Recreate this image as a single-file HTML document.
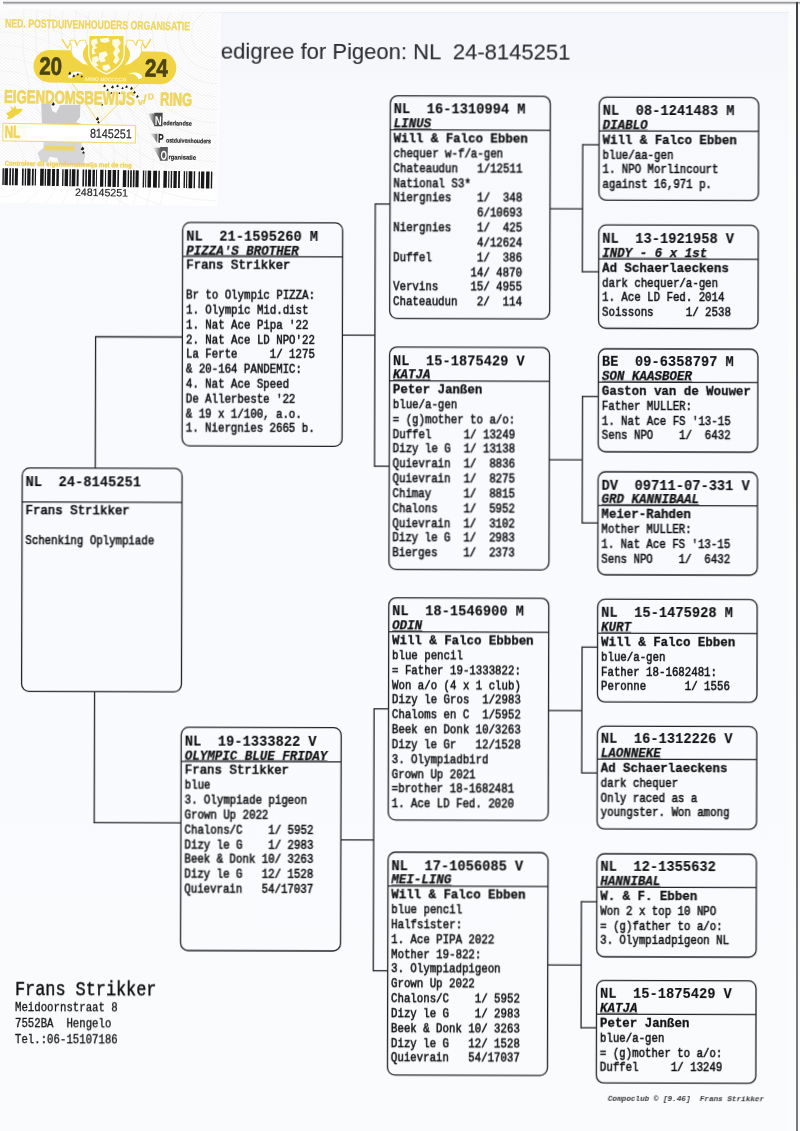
<!DOCTYPE html>
<html><head><meta charset="utf-8"><title>Pedigree</title>
<style>
html,body{margin:0;padding:0}
body{width:800px;height:1131px;overflow:hidden;position:relative;background:#fcfcfd;font-family:"Liberation Mono",monospace;color:#101012}
#all{position:absolute;left:0;top:0;width:800px;height:1131px;transform-origin:0 0;transform:rotate(0.17deg);will-change:transform;filter:blur(0.35px)}
#lab{position:absolute;left:0;top:0;width:240px;height:215px;will-change:transform}
.sheet{position:absolute;left:0;top:13px;width:788px;height:1118px;background:linear-gradient(#f4f6fb 0,#f5f7fb 50px,#f8f9fc 80px,#f9fafd 400px,#fafbfd 100%)}
.topedge{position:absolute;left:3px;top:0;width:797px;height:6px;background:linear-gradient(#fdfdfd 0,#ededee 1.4px,#94969a 2.4px,#9c9ea2 3.0px,#e6e6e8 4.0px,#fcfcfd 5.5px)}
.topline2{position:absolute;left:3px;top:12px;width:786px;height:1.4px;background:#eceef2}
.rightedge{position:absolute;left:795.9px;top:2px;width:2.4px;height:1129px;background:linear-gradient(#3a4246,#4a5256 30%,#767c80 90%)}
.t{position:absolute;white-space:pre;line-height:20px;height:20px;transform-origin:0 50%;font-family:"Liberation Mono",monospace;color:#101012}
.l{position:absolute;background:#232427}
.b{position:absolute;border:1.25px solid #232427;border-radius:7.5px;box-sizing:content-box}
.title{position:absolute;left:220.9px;top:36.0px;font:21.2px "Liberation Sans",sans-serif;color:#2c2e32;white-space:pre;line-height:30px;transform-origin:0 50%;transform:scaleX(1.04);-webkit-text-stroke:0.12px #2c2e32}
</style></head><body>
<div class="sheet"></div>
<div class="topedge"></div><div class="topline2"></div>
<div class="rightedge"></div>
<div id="lab">
<svg width="240" height="215" viewBox="0 0 240 215" style="position:absolute;left:0;top:0;overflow:visible">
<defs><linearGradient id="sh" x1="0" x2="1"><stop offset="0" stop-color="#fefefe"/><stop offset="1" stop-color="#fefefe" stop-opacity="0"/></linearGradient><pattern id="gp" width="2.4" height="2.4" patternUnits="userSpaceOnUse" patternTransform="rotate(38)"><rect x="0" y="0" width="2.4" height="0.7" fill="#f2f2f4"/></pattern><clipPath id="lc"><rect x="-3" y="9" width="222.3" height="193.7"/></clipPath><linearGradient id="wg" x1="0" x2="1"><stop offset="0" stop-color="#b0b0b0" stop-opacity="0.2"/><stop offset="1" stop-color="#5e5e60"/></linearGradient></defs>
<g transform="rotate(0.95)" font-family="Liberation Sans, sans-serif">
<rect x="-3" y="9" width="222.3" height="193.7" fill="#fefefe"/><rect x="-3" y="9" width="222.3" height="157" fill="url(#gp)"/>
<rect x="219.3" y="9" width="3" height="193.7" fill="url(#sh)"/>
<g clip-path="url(#lc)">
<circle cx="216" cy="30" r="24" fill="none" stroke="#ebebee" stroke-width="0.5"/>
<circle cx="216" cy="30" r="37" fill="none" stroke="#ebebee" stroke-width="0.5"/>
<circle cx="216" cy="30" r="50" fill="none" stroke="#ebebee" stroke-width="0.5"/>
<circle cx="216" cy="30" r="63" fill="none" stroke="#ebebee" stroke-width="0.5"/>
<circle cx="216" cy="30" r="76" fill="none" stroke="#ebebee" stroke-width="0.5"/>
<circle cx="216" cy="30" r="89" fill="none" stroke="#ebebee" stroke-width="0.5"/>
<circle cx="216" cy="30" r="102" fill="none" stroke="#ebebee" stroke-width="0.5"/>
<circle cx="216" cy="30" r="115" fill="none" stroke="#ebebee" stroke-width="0.5"/>
<circle cx="216" cy="30" r="128" fill="none" stroke="#ebebee" stroke-width="0.5"/>
<circle cx="216" cy="30" r="141" fill="none" stroke="#ebebee" stroke-width="0.5"/>
<circle cx="216" cy="30" r="154" fill="none" stroke="#ebebee" stroke-width="0.5"/>
<circle cx="216" cy="30" r="167" fill="none" stroke="#ebebee" stroke-width="0.5"/>
<circle cx="216" cy="30" r="180" fill="none" stroke="#ebebee" stroke-width="0.5"/>
<circle cx="216" cy="30" r="193" fill="none" stroke="#ebebee" stroke-width="0.5"/>
<circle cx="2" cy="160" r="24" fill="none" stroke="#efeff1" stroke-width="0.5"/>
<circle cx="2" cy="160" r="37" fill="none" stroke="#efeff1" stroke-width="0.5"/>
<circle cx="2" cy="160" r="50" fill="none" stroke="#efeff1" stroke-width="0.5"/>
<circle cx="2" cy="160" r="63" fill="none" stroke="#efeff1" stroke-width="0.5"/>
<circle cx="2" cy="160" r="76" fill="none" stroke="#efeff1" stroke-width="0.5"/>
<circle cx="2" cy="160" r="89" fill="none" stroke="#efeff1" stroke-width="0.5"/>
<circle cx="2" cy="160" r="102" fill="none" stroke="#efeff1" stroke-width="0.5"/>
<circle cx="2" cy="160" r="115" fill="none" stroke="#efeff1" stroke-width="0.5"/>
<circle cx="2" cy="160" r="128" fill="none" stroke="#efeff1" stroke-width="0.5"/>
<circle cx="2" cy="160" r="141" fill="none" stroke="#efeff1" stroke-width="0.5"/>
<circle cx="2" cy="160" r="154" fill="none" stroke="#efeff1" stroke-width="0.5"/>
<circle cx="2" cy="160" r="167" fill="none" stroke="#efeff1" stroke-width="0.5"/>
</g>
<text x="5.5" y="27.2" font-size="12.0" fill="#efd55e" font-weight="bold" textLength="185" lengthAdjust="spacingAndGlyphs" stroke="#efd55e" stroke-width="0.3" stroke-linejoin="round">NED. POSTDUIVENHOUDERS ORGANISATIE</text>
<path d="M43 103 L52 102.5 L54 110 L58 112 L62 104 L82 103.5 L82 116 L78 121 L83 122.5 L83 123 L44 123 Z" fill="#cbcbcd"/>
<path d="M46 141 L84 141 L84 150 L88 152 L86 164 L62 164 L60 157 L52 156 L50 162 L43 160 L40 152 L46 147 Z" fill="#d6d6d8"/>
<path d="M73.5 82 L101 121.5 L140 82 Z" fill="#fdf8da" opacity="0.3"/>
<path d="M73.5 82 L101 121.5 L140 82" fill="none" stroke="#efd55e" stroke-width="0.9"/>
<rect x="34.6" y="49.2" width="142.8" height="32.4" rx="16.2" fill="#f1d444"/>
<path d="M62.7 38.2 L68.3 47.1 L72.7 38.8" fill="none" stroke="#f1d444" stroke-width="1.4" stroke-linejoin="round"/>
<path d="M75.4 38.8 L78.3 44.5 L81.2 38.9" fill="none" stroke="#f1d444" stroke-width="1.4" stroke-linejoin="round"/>
<path d="M151.4 36.7 L146.1 45.8 L141.4 37.7" fill="none" stroke="#f1d444" stroke-width="1.4" stroke-linejoin="round"/>
<path d="M138.7 37.7 L136.0 43.5 L132.9 38.1" fill="none" stroke="#f1d444" stroke-width="1.4" stroke-linejoin="round"/>
<path d="M70.2 39.3 L75.4 38.8 L77.5 44.5 L80.4 39.2 L86.2 38.6 L87.5 45.3 L86.4 51.6 L88.3 58.8 L89.1 64.0 L84.1 62.9 L79.5 59.4 L74.4 55.8 L71.9 50.8 L72.5 45.6 Z" fill="#ffffff" stroke="#f1d444" stroke-width="0.8" stroke-linejoin="round"/>
<path d="M143.9 38.1 L138.7 37.7 L136.8 43.5 L133.7 38.3 L127.9 37.9 L126.8 44.7 L128.1 50.9 L126.5 58.2 L125.8 63.4 L130.8 62.1 L135.3 58.5 L140.2 54.7 L142.6 49.6 L141.8 44.4 Z" fill="#ffffff" stroke="#f1d444" stroke-width="0.8" stroke-linejoin="round"/>
<ellipse cx="107.3" cy="52.7" rx="23.6" ry="16.2" fill="#f1d444"/>
<path d="M89.3 33.8 L124.7 33.2 L125.0 50.9 C125.2 62.2 115.9 68.6 107.6 72.2 C99.0 68.9 89.8 62.8 89.6 51.5 Z" fill="#f1d444" stroke="#fffdf2" stroke-width="1.3"/>
<path d="M92.3 38.4 L97.3 37.0 L98.6 41.4 L95.5 43.3 L98.0 46.4 L94.3 48.3 L96.9 52.0 L93.2 53.3 L92.5 49.0 L93.7 45.2 L91.7 42.1 Z" fill="#fffbe4" />
<path d="M93.2 55.8 L98.2 54.5 L100.1 58.9 L97.0 60.8 L99.6 63.9 L95.9 65.2 L93.3 61.5 Z" fill="#fffbe4" />
<path d="M100.0 51.4 L106.8 49.4 L108.8 53.1 L105.1 56.3 L107.0 59.4 L102.0 60.7 L99.5 57.0 Z" fill="#fffbe4" />
<path d="M100.4 37.0 L109.1 35.9 L110.4 39.3 L106.1 41.3 L101.7 40.3 Z" fill="#fffbe4" />
<path d="M112.9 38.0 L119.1 36.7 L121.7 41.0 L118.7 44.8 L121.2 49.1 L118.2 52.9 L120.7 57.3 L117.1 62.3 L113.9 59.9 L116.3 55.5 L113.8 51.1 L116.2 46.7 L113.0 43.0 Z" fill="#fffbe4" />
<path d="M103.3 63.8 L109.6 62.4 L112.1 66.2 L107.2 69.4 L104.0 67.5 Z" fill="#fffbe4" />
<text x="85.8" y="79.5" font-size="5.4" fill="#fff3c0" font-weight="bold" textLength="42" lengthAdjust="spacingAndGlyphs">ANNO MDCCCCXI</text>
<path d="M69.2 76.2 C69.7 70.6 79.7 68.6 84.7 72.2 C79.7 71.7 74.7 73.0 72.9 77.4 Z" fill="#fff"/>
<path d="M143.5 75.6 C142.8 70.0 134.7 68.9 129.1 72.1 C134.1 71.4 138.5 72.6 139.8 77.0 Z" fill="#fff"/>
<text x="40.4" y="73.8" font-size="25" fill="#4b4414" font-weight="bold" textLength="22.8" lengthAdjust="spacingAndGlyphs" stroke="#4b4414" stroke-width="0.7" stroke-linejoin="round">20</text>
<text x="145.9" y="74.0" font-size="25" fill="#4b4414" font-weight="bold" textLength="23.0" lengthAdjust="spacingAndGlyphs" stroke="#4b4414" stroke-width="0.7" stroke-linejoin="round">24</text>
<text x="5.8" y="102.6" font-size="18.3" fill="#efd55e" font-weight="bold" textLength="130.6" lengthAdjust="spacingAndGlyphs" stroke="#efd55e" stroke-width="0.8" stroke-linejoin="round">EIGENDOMSBEWIJS</text>
<text x="139.5" y="102.6" font-size="9.5" fill="#efd55e" font-weight="bold" stroke="#efd55e" stroke-width="0.3" stroke-linejoin="round">v</text>
<text x="144.6" y="101" font-size="12.5" fill="#efd55e" font-weight="bold" stroke="#efd55e" stroke-width="0.3" stroke-linejoin="round">/</text>
<text x="149.3" y="97" font-size="8.6" fill="#efd55e" font-weight="bold" stroke="#efd55e" stroke-width="0.3" stroke-linejoin="round">D</text>
<text x="161.8" y="102.6" font-size="18.3" fill="#efd55e" font-weight="bold" textLength="32" lengthAdjust="spacingAndGlyphs" stroke="#efd55e" stroke-width="0.8" stroke-linejoin="round">RING</text>
<path d="M7.6 113 C10.6 112 12.6 111 13.6 109 L11.6 105.8 L15.6 108 L16.6 105 L18.6 109 C20.6 108 22.6 108 24.6 109 C22.6 112 20.6 114 17.6 115 C15.6 118 11.6 119 8.6 119 L10.6 116 Z" fill="#f1d444"/>
<rect x="5.1" y="123.2" width="132.6" height="17.6" fill="#fffdf2" stroke="#efd55e" stroke-width="0.9"/>
<rect x="29.5" y="124.6" width="107" height="14.8" fill="#ffffff"/>
<text x="6.8" y="137.6" font-size="17.2" fill="#efd55e" font-weight="bold" textLength="15.8" lengthAdjust="spacingAndGlyphs" stroke="#efd55e" stroke-width="0.7" stroke-linejoin="round">NL</text>
<text x="92.2" y="136.2" font-size="12.9" fill="#262626" textLength="41.7" lengthAdjust="spacingAndGlyphs" stroke="#262626" stroke-width="0.2" stroke-linejoin="round">8145251</text>
<rect x="47" y="145" width="30" height="4.6" fill="#efd55e" opacity="0.9"/>
<path d="M149.5 111 L156.4 111 L156.4 123 Z" fill="url(#wg)"/>
<rect x="156.2" y="110.1" width="8.3" height="13.5" fill="#4a4a4c"/>
<text x="156.9" y="122.4" font-size="12.6" fill="#fff" font-weight="bold" textLength="6.9" lengthAdjust="spacingAndGlyphs">N</text>
<text x="165.2" y="122.5" font-size="6.4" fill="#1e1e1e" font-weight="bold" textLength="28.6" lengthAdjust="spacingAndGlyphs" stroke="#1e1e1e" stroke-width="0.15" stroke-linejoin="round">ederlandse</text>
<path d="M152.5 131 L159.6 131 L159.6 140 Z" fill="url(#wg)"/>
<text x="160.3" y="140.0" font-size="12.8" fill="#1a1a1a" font-weight="bold" textLength="5.6" lengthAdjust="spacingAndGlyphs" stroke="#1a1a1a" stroke-width="0.2" stroke-linejoin="round">P</text>
<text x="168.3" y="139.8" font-size="6.4" fill="#1e1e1e" font-weight="bold" textLength="45" lengthAdjust="spacingAndGlyphs" stroke="#1e1e1e" stroke-width="0.15" stroke-linejoin="round">ostduivenhouders</text>
<path d="M155.5 145 L162.7 145 L162.7 157 Z" fill="url(#wg)"/>
<rect x="162.5" y="144.3" width="7.8" height="13.7" fill="#5c5c5e"/>
<text x="163.2" y="156.8" font-size="12.6" fill="#fff" font-weight="bold" textLength="6.4" lengthAdjust="spacingAndGlyphs">O</text>
<text x="171" y="156.5" font-size="6.4" fill="#1e1e1e" font-weight="bold" textLength="27.6" lengthAdjust="spacingAndGlyphs" stroke="#1e1e1e" stroke-width="0.15" stroke-linejoin="round">rganisatie</text>
<text x="7.4" y="165.4" font-size="6.8" fill="#f0cf55" font-weight="bold" textLength="127" lengthAdjust="spacingAndGlyphs" stroke="#f0cf55" stroke-width="0.25" stroke-linejoin="round">Controleer dit eigendomsbewijs met de ring</text>
<path d="M69.4 73.0 L71.0 70.4 L72.4 72.3 L71.3 73.6 Z" fill="#1e1e1e"/>
<path d="M73.6 75.3 L75.0 73.1 L76.3 74.8 L75.3 75.9 Z" fill="#1e1e1e"/>
<path d="M77.7 73.8 L79.0 71.7 L80.2 73.3 L79.3 74.3 Z" fill="#1e1e1e"/>
<path d="M81.8 75.7 L83.0 73.8 L84.1 75.2 L83.2 76.2 Z" fill="#1e1e1e"/>
<path d="M104.5 84.9 L106.0 82.5 L107.3 84.3 L106.3 85.5 Z" fill="#1e1e1e"/>
<path d="M107.7 88.8 L109.0 86.7 L110.2 88.3 L109.3 89.3 Z" fill="#1e1e1e"/>
<path d="M112.4 86.0 L114.0 83.4 L115.4 85.3 L114.3 86.6 Z" fill="#1e1e1e"/>
<path d="M117.6 84.8 L119.0 82.6 L120.3 84.3 L119.3 85.4 Z" fill="#1e1e1e"/>
<path d="M122.7 86.8 L124.0 84.7 L125.2 86.3 L124.3 87.3 Z" fill="#1e1e1e"/>
<path d="M126.5 85.4 L128.0 83.0 L129.3 84.8 L128.3 86.0 Z" fill="#1e1e1e"/>
<path d="M131.4 87.0 L133.0 84.4 L134.4 86.3 L133.3 87.6 Z" fill="#1e1e1e"/>
<path d="M134.6 90.8 L136.0 88.6 L137.3 90.3 L136.3 91.4 Z" fill="#1e1e1e"/>
<path d="M137.5 94.9 L139.0 92.5 L140.3 94.3 L139.3 95.5 Z" fill="#1e1e1e"/>
<path d="M112.0 91.6 L113.0 90.0 L113.9 91.2 L113.2 92.0 Z" fill="#1e1e1e"/>
<path d="M119.9 91.7 L121.0 89.9 L122.0 91.2 L121.2 92.1 Z" fill="#1e1e1e"/>
<path d="M53.2 104.1 L55.0 101.2 L56.6 103.4 L55.4 104.8 Z" fill="#1e1e1e"/>
<path d="M103.0 103.6 L104.0 102.0 L104.9 103.2 L104.2 104.0 Z" fill="#1e1e1e"/>
<path d="M97.7 118.1 L99.5 115.2 L101.1 117.4 L99.9 118.8 Z" fill="#1e1e1e"/>
<path d="M99.2 121.3 L100.5 119.2 L101.7 120.8 L100.8 121.8 Z" fill="#1e1e1e"/>
<path d="M83.0 148.2 L85.0 145.0 L86.8 147.4 L85.4 149.0 Z" fill="#1e1e1e"/>
<path d="M84.6 151.8 L86.0 149.6 L87.3 151.3 L86.3 152.4 Z" fill="#1e1e1e"/>
<rect x="5.38" y="168.1" width="1.38" height="16.9" fill="#18181a"/>
<rect x="7.44" y="168.1" width="3.44" height="16.9" fill="#18181a"/>
<rect x="12.25" y="168.1" width="1.65" height="16.9" fill="#18181a"/>
<rect x="15.00" y="168.1" width="1.65" height="16.9" fill="#18181a"/>
<rect x="17.76" y="168.1" width="3.03" height="16.9" fill="#18181a"/>
<rect x="24.91" y="168.1" width="1.65" height="16.9" fill="#18181a"/>
<rect x="27.66" y="168.1" width="1.38" height="16.9" fill="#18181a"/>
<rect x="30.14" y="168.1" width="3.30" height="16.9" fill="#18181a"/>
<rect x="34.81" y="168.1" width="1.79" height="16.9" fill="#18181a"/>
<rect x="37.70" y="168.1" width="1.24" height="16.9" fill="#18181a"/>
<rect x="43.07" y="168.1" width="3.58" height="16.9" fill="#18181a"/>
<rect x="47.60" y="168.1" width="1.38" height="16.9" fill="#18181a"/>
<rect x="50.08" y="168.1" width="3.44" height="16.9" fill="#18181a"/>
<rect x="54.89" y="168.1" width="3.03" height="16.9" fill="#18181a"/>
<rect x="59.30" y="168.1" width="2.48" height="16.9" fill="#18181a"/>
<rect x="65.07" y="168.1" width="1.38" height="16.9" fill="#18181a"/>
<rect x="67.55" y="168.1" width="3.44" height="16.9" fill="#18181a"/>
<rect x="72.36" y="168.1" width="1.38" height="16.9" fill="#18181a"/>
<rect x="74.70" y="168.1" width="3.58" height="16.9" fill="#18181a"/>
<rect x="79.65" y="168.1" width="1.93" height="16.9" fill="#18181a"/>
<rect x="85.43" y="168.1" width="1.65" height="16.9" fill="#18181a"/>
<rect x="88.18" y="168.1" width="1.65" height="16.9" fill="#18181a"/>
<rect x="90.93" y="168.1" width="3.03" height="16.9" fill="#18181a"/>
<rect x="95.33" y="168.1" width="2.48" height="16.9" fill="#18181a"/>
<rect x="98.91" y="168.1" width="0.96" height="16.9" fill="#18181a"/>
<rect x="103.04" y="168.1" width="3.30" height="16.9" fill="#18181a"/>
<rect x="107.90" y="168.1" width="1.10" height="16.9" fill="#18181a"/>
<rect x="110.65" y="168.1" width="3.44" height="16.9" fill="#18181a"/>
<rect x="115.47" y="168.1" width="3.44" height="16.9" fill="#18181a"/>
<rect x="120.28" y="168.1" width="1.65" height="16.9" fill="#18181a"/>
<rect x="125.78" y="168.1" width="3.44" height="16.9" fill="#18181a"/>
<rect x="130.60" y="168.1" width="1.38" height="16.9" fill="#18181a"/>
<rect x="133.07" y="168.1" width="1.65" height="16.9" fill="#18181a"/>
<rect x="135.82" y="168.1" width="1.65" height="16.9" fill="#18181a"/>
<rect x="138.44" y="168.1" width="3.16" height="16.9" fill="#18181a"/>
<rect x="145.73" y="168.1" width="1.38" height="16.9" fill="#18181a"/>
<rect x="148.20" y="168.1" width="0.96" height="16.9" fill="#18181a"/>
<rect x="150.54" y="168.1" width="3.44" height="16.9" fill="#18181a"/>
<rect x="156.04" y="168.1" width="3.85" height="16.9" fill="#18181a"/>
<rect x="161.27" y="168.1" width="1.38" height="16.9" fill="#18181a"/>
<rect x="166.36" y="168.1" width="3.44" height="16.9" fill="#18181a"/>
<rect x="171.17" y="168.1" width="1.10" height="16.9" fill="#18181a"/>
<rect x="173.65" y="168.1" width="1.38" height="16.9" fill="#18181a"/>
<rect x="176.40" y="168.1" width="3.30" height="16.9" fill="#18181a"/>
<rect x="181.08" y="168.1" width="1.79" height="16.9" fill="#18181a"/>
<rect x="186.58" y="168.1" width="1.38" height="16.9" fill="#18181a"/>
<rect x="189.06" y="168.1" width="1.10" height="16.9" fill="#18181a"/>
<rect x="191.53" y="168.1" width="3.71" height="16.9" fill="#18181a"/>
<rect x="196.62" y="168.1" width="1.38" height="16.9" fill="#18181a"/>
<rect x="201.44" y="168.1" width="1.38" height="16.9" fill="#18181a"/>
<rect x="203.91" y="168.1" width="3.30" height="16.9" fill="#18181a"/>
<rect x="209.00" y="168.1" width="3.44" height="16.9" fill="#18181a"/>
<rect x="213.81" y="168.1" width="1.38" height="16.9" fill="#18181a"/>
<text x="78.2" y="194.4" font-size="10.6" fill="#242424" textLength="53" lengthAdjust="spacingAndGlyphs" stroke="#242424" stroke-width="0.15" stroke-linejoin="round">248145251</text>
</g></svg>
</div>
<div id="all">
<div class="title">edigree for Pigeon: NL  24-8145251</div>
<svg width="800" height="1131" style="position:absolute;left:0;top:0" fill="none" stroke="#232427"><rect x="23.60" y="467.90" width="159.90" height="223.40" rx="7.5" ry="7.5" stroke-width="1.3"/><path d="M23.60 501.90H183.50" stroke-width="1.3"/><rect x="183.40" y="221.90" width="160.00" height="223.45" rx="7.5" ry="7.5" stroke-width="1.3"/><path d="M183.40 255.90H343.40" stroke-width="1.3"/><path d="M187.00 254.75H299.55" stroke-width="0.8" stroke="#4a4b4e"/><rect x="183.40" y="726.70" width="160.00" height="223.30" rx="7.5" ry="7.5" stroke-width="1.3"/><path d="M183.40 760.90H343.40" stroke-width="1.3"/><path d="M187.00 759.75H329.57" stroke-width="0.8" stroke="#4a4b4e"/><rect x="390.60" y="94.60" width="160.00" height="222.70" rx="7.5" ry="7.5" stroke-width="1.3"/><path d="M390.60 128.60H550.60" stroke-width="1.3"/><path d="M394.20 127.45H431.72" stroke-width="0.8" stroke="#4a4b4e"/><rect x="390.60" y="345.80" width="160.00" height="222.50" rx="7.5" ry="7.5" stroke-width="1.3"/><path d="M390.60 379.60H550.60" stroke-width="1.3"/><path d="M394.20 378.45H431.72" stroke-width="0.8" stroke="#4a4b4e"/><rect x="390.60" y="596.60" width="160.00" height="222.20" rx="7.5" ry="7.5" stroke-width="1.3"/><path d="M390.60 630.60H550.60" stroke-width="1.3"/><path d="M394.20 629.45H424.21" stroke-width="0.8" stroke="#4a4b4e"/><rect x="390.60" y="851.00" width="160.00" height="222.80" rx="7.5" ry="7.5" stroke-width="1.3"/><path d="M390.60 884.80H550.60" stroke-width="1.3"/><path d="M394.20 883.65H454.23" stroke-width="0.8" stroke="#4a4b4e"/><rect x="599.50" y="95.40" width="159.50" height="103.00" rx="7.5" ry="7.5" stroke-width="1.3"/><path d="M599.50 129.20H759.00" stroke-width="1.3"/><path d="M603.10 128.05H648.12" stroke-width="0.8" stroke="#4a4b4e"/><rect x="599.50" y="223.20" width="159.50" height="103.30" rx="7.5" ry="7.5" stroke-width="1.3"/><path d="M599.50 257.20H759.00" stroke-width="1.3"/><path d="M603.10 256.05H708.15" stroke-width="0.8" stroke="#4a4b4e"/><rect x="599.50" y="347.00" width="159.50" height="103.00" rx="7.5" ry="7.5" stroke-width="1.3"/><path d="M599.50 380.40H759.00" stroke-width="1.3"/><path d="M603.10 379.25H693.14" stroke-width="0.8" stroke="#4a4b4e"/><rect x="599.50" y="470.00" width="159.50" height="103.00" rx="7.5" ry="7.5" stroke-width="1.3"/><path d="M599.50 503.70H759.00" stroke-width="1.3"/><path d="M603.10 502.55H700.65" stroke-width="0.8" stroke="#4a4b4e"/><rect x="599.50" y="597.40" width="159.50" height="102.80" rx="7.5" ry="7.5" stroke-width="1.3"/><path d="M599.50 631.40H759.00" stroke-width="1.3"/><path d="M603.10 630.25H633.11" stroke-width="0.8" stroke="#4a4b4e"/><rect x="599.50" y="724.40" width="159.50" height="102.80" rx="7.5" ry="7.5" stroke-width="1.3"/><path d="M599.50 757.40H759.00" stroke-width="1.3"/><path d="M603.10 756.25H663.13" stroke-width="0.8" stroke="#4a4b4e"/><rect x="599.50" y="852.00" width="159.50" height="103.00" rx="7.5" ry="7.5" stroke-width="1.3"/><path d="M599.50 885.40H759.00" stroke-width="1.3"/><path d="M603.10 884.25H663.13" stroke-width="0.8" stroke="#4a4b4e"/><rect x="599.50" y="978.70" width="159.50" height="102.50" rx="7.5" ry="7.5" stroke-width="1.3"/><path d="M599.50 1012.40H759.00" stroke-width="1.3"/><path d="M603.10 1011.25H640.62" stroke-width="0.8" stroke="#4a4b4e"/><path d="M96.60 335.85V467.90" stroke-width="1.3"/><path d="M96.60 336.50H183.40" stroke-width="1.3"/><path d="M96.60 691.30V823.05" stroke-width="1.3"/><path d="M96.60 822.40H183.40" stroke-width="1.3"/><path d="M343.40 334.10H375.90" stroke-width="1.3"/><path d="M375.90 202.25V465.75" stroke-width="1.3"/><path d="M375.90 202.90H390.60" stroke-width="1.3"/><path d="M375.90 465.10H390.60" stroke-width="1.3"/><path d="M343.40 838.90H376.20" stroke-width="1.3"/><path d="M376.20 707.05V970.25" stroke-width="1.3"/><path d="M376.20 707.70H390.60" stroke-width="1.3"/><path d="M376.20 969.60H390.60" stroke-width="1.3"/><path d="M550.60 207.10H583.20" stroke-width="1.3"/><path d="M583.20 142.35V270.65" stroke-width="1.3"/><path d="M583.20 143.00H599.50" stroke-width="1.3"/><path d="M583.20 270.00H599.50" stroke-width="1.3"/><path d="M550.60 458.10H583.65" stroke-width="1.3"/><path d="M583.65 394.05V521.85" stroke-width="1.3"/><path d="M583.65 394.70H599.50" stroke-width="1.3"/><path d="M583.65 521.20H599.50" stroke-width="1.3"/><path d="M550.60 708.80H584.00" stroke-width="1.3"/><path d="M584.00 644.75V771.85" stroke-width="1.3"/><path d="M584.00 645.40H599.50" stroke-width="1.3"/><path d="M584.00 771.20H599.50" stroke-width="1.3"/><path d="M550.60 963.30H584.10" stroke-width="1.3"/><path d="M584.10 899.35V1026.65" stroke-width="1.3"/><path d="M584.10 900.00H599.50" stroke-width="1.3"/><path d="M584.10 1026.00H599.50" stroke-width="1.3"/></svg>
<div class="t" style="left:26.70px;top:472px;font-size:14.7px;font-weight:bold;font-style:normal;transform:scaleX(0.935);-webkit-text-stroke:0.1px #101012;">NL  24-8145251</div>
<div class="t" style="left:26.70px;top:501px;font-size:13.0px;font-weight:normal;font-style:normal;transform:scaleX(0.955);-webkit-text-stroke:0.7px #101012;">Frans Strikker</div>
<div class="t" style="left:26.70px;top:531px;font-size:13.6px;font-weight:normal;font-style:normal;transform:scaleX(0.79);-webkit-text-stroke:0.55px #101012;">Schenking Oplympiade</div>
<div class="t" style="left:186.50px;top:226px;font-size:14.7px;font-weight:bold;font-style:normal;transform:scaleX(0.935);-webkit-text-stroke:0.1px #101012;">NL  21-1595260 M</div>
<div class="t" style="left:186.50px;top:241px;font-size:13.0px;font-weight:bold;font-style:italic;transform:scaleX(0.962);-webkit-text-stroke:0.25px #101012;">PIZZA&#x27;S BROTHER</div>
<div class="t" style="left:186.50px;top:255px;font-size:13.0px;font-weight:normal;font-style:normal;transform:scaleX(0.955);-webkit-text-stroke:0.7px #101012;">Frans Strikker</div>
<div class="t" style="left:186.50px;top:285px;font-size:13.6px;font-weight:normal;font-style:normal;transform:scaleX(0.79);-webkit-text-stroke:0.55px #101012;">Br to Olympic PIZZA:</div>
<div class="t" style="left:186.50px;top:300px;font-size:13.6px;font-weight:normal;font-style:normal;transform:scaleX(0.79);-webkit-text-stroke:0.55px #101012;">1. Olympic Mid.dist</div>
<div class="t" style="left:186.50px;top:315px;font-size:13.6px;font-weight:normal;font-style:normal;transform:scaleX(0.79);-webkit-text-stroke:0.55px #101012;">1. Nat Ace Pipa &#x27;22</div>
<div class="t" style="left:186.50px;top:330px;font-size:13.6px;font-weight:normal;font-style:normal;transform:scaleX(0.79);-webkit-text-stroke:0.55px #101012;">2. Nat Ace LD NPO&#x27;22</div>
<div class="t" style="left:186.50px;top:344px;font-size:13.6px;font-weight:normal;font-style:normal;transform:scaleX(0.79);-webkit-text-stroke:0.55px #101012;">La Ferte     1/ 1275</div>
<div class="t" style="left:186.50px;top:359px;font-size:13.6px;font-weight:normal;font-style:normal;transform:scaleX(0.79);-webkit-text-stroke:0.55px #101012;">&amp; 20-164 PANDEMIC:</div>
<div class="t" style="left:186.50px;top:374px;font-size:13.6px;font-weight:normal;font-style:normal;transform:scaleX(0.79);-webkit-text-stroke:0.55px #101012;">4. Nat Ace Speed</div>
<div class="t" style="left:186.50px;top:389px;font-size:13.6px;font-weight:normal;font-style:normal;transform:scaleX(0.79);-webkit-text-stroke:0.55px #101012;">De Allerbeste &#x27;22</div>
<div class="t" style="left:186.50px;top:404px;font-size:13.6px;font-weight:normal;font-style:normal;transform:scaleX(0.79);-webkit-text-stroke:0.55px #101012;">&amp; 19 x 1/100, a.o.</div>
<div class="t" style="left:186.50px;top:418px;font-size:13.6px;font-weight:normal;font-style:normal;transform:scaleX(0.79);-webkit-text-stroke:0.55px #101012;">1. Niergnies 2665 b.</div>
<div class="t" style="left:186.50px;top:731px;font-size:14.7px;font-weight:bold;font-style:normal;transform:scaleX(0.935);-webkit-text-stroke:0.1px #101012;">NL  19-1333822 V</div>
<div class="t" style="left:186.50px;top:746px;font-size:13.0px;font-weight:bold;font-style:italic;transform:scaleX(0.962);-webkit-text-stroke:0.25px #101012;">OLYMPIC BLUE FRIDAY</div>
<div class="t" style="left:186.50px;top:760px;font-size:13.0px;font-weight:normal;font-style:normal;transform:scaleX(0.955);-webkit-text-stroke:0.7px #101012;">Frans Strikker</div>
<div class="t" style="left:186.50px;top:775px;font-size:13.6px;font-weight:normal;font-style:normal;transform:scaleX(0.79);-webkit-text-stroke:0.55px #101012;">blue</div>
<div class="t" style="left:186.50px;top:790px;font-size:13.6px;font-weight:normal;font-style:normal;transform:scaleX(0.79);-webkit-text-stroke:0.55px #101012;">3. Olympiade pigeon</div>
<div class="t" style="left:186.50px;top:805px;font-size:13.6px;font-weight:normal;font-style:normal;transform:scaleX(0.79);-webkit-text-stroke:0.55px #101012;">Grown Up 2022</div>
<div class="t" style="left:186.50px;top:820px;font-size:13.6px;font-weight:normal;font-style:normal;transform:scaleX(0.79);-webkit-text-stroke:0.55px #101012;">Chalons/C    1/ 5952</div>
<div class="t" style="left:186.50px;top:835px;font-size:13.6px;font-weight:normal;font-style:normal;transform:scaleX(0.79);-webkit-text-stroke:0.55px #101012;">Dizy le G    1/ 2983</div>
<div class="t" style="left:186.50px;top:849px;font-size:13.6px;font-weight:normal;font-style:normal;transform:scaleX(0.79);-webkit-text-stroke:0.55px #101012;">Beek &amp; Donk 10/ 3263</div>
<div class="t" style="left:186.50px;top:864px;font-size:13.6px;font-weight:normal;font-style:normal;transform:scaleX(0.79);-webkit-text-stroke:0.55px #101012;">Dizy le G   12/ 1528</div>
<div class="t" style="left:186.50px;top:879px;font-size:13.6px;font-weight:normal;font-style:normal;transform:scaleX(0.79);-webkit-text-stroke:0.55px #101012;">Quievrain   54/17037</div>
<div class="t" style="left:393.70px;top:98px;font-size:14.7px;font-weight:bold;font-style:normal;transform:scaleX(0.935);-webkit-text-stroke:0.1px #101012;">NL  16-1310994 M</div>
<div class="t" style="left:393.70px;top:113px;font-size:13.0px;font-weight:bold;font-style:italic;transform:scaleX(0.962);-webkit-text-stroke:0.25px #101012;">LINUS</div>
<div class="t" style="left:393.70px;top:128px;font-size:13.0px;font-weight:bold;font-style:normal;transform:scaleX(0.955);-webkit-text-stroke:0.3px #101012;">Will &amp; Falco Ebben</div>
<div class="t" style="left:393.70px;top:143px;font-size:13.6px;font-weight:normal;font-style:normal;transform:scaleX(0.79);-webkit-text-stroke:0.55px #101012;">chequer w-f/a-gen</div>
<div class="t" style="left:393.70px;top:158px;font-size:13.6px;font-weight:normal;font-style:normal;transform:scaleX(0.79);-webkit-text-stroke:0.55px #101012;">Chateaudun   1/12511</div>
<div class="t" style="left:393.70px;top:173px;font-size:13.6px;font-weight:normal;font-style:normal;transform:scaleX(0.79);-webkit-text-stroke:0.55px #101012;">National S3*</div>
<div class="t" style="left:393.70px;top:187px;font-size:13.6px;font-weight:normal;font-style:normal;transform:scaleX(0.79);-webkit-text-stroke:0.55px #101012;">Niergnies    1/  348</div>
<div class="t" style="left:393.70px;top:202px;font-size:13.6px;font-weight:normal;font-style:normal;transform:scaleX(0.79);-webkit-text-stroke:0.55px #101012;">             6/10693</div>
<div class="t" style="left:393.70px;top:217px;font-size:13.6px;font-weight:normal;font-style:normal;transform:scaleX(0.79);-webkit-text-stroke:0.55px #101012;">Niergnies    1/  425</div>
<div class="t" style="left:393.70px;top:232px;font-size:13.6px;font-weight:normal;font-style:normal;transform:scaleX(0.79);-webkit-text-stroke:0.55px #101012;">             4/12624</div>
<div class="t" style="left:393.70px;top:247px;font-size:13.6px;font-weight:normal;font-style:normal;transform:scaleX(0.79);-webkit-text-stroke:0.55px #101012;">Duffel       1/  386</div>
<div class="t" style="left:393.70px;top:262px;font-size:13.6px;font-weight:normal;font-style:normal;transform:scaleX(0.79);-webkit-text-stroke:0.55px #101012;">            14/ 4870</div>
<div class="t" style="left:393.70px;top:276px;font-size:13.6px;font-weight:normal;font-style:normal;transform:scaleX(0.79);-webkit-text-stroke:0.55px #101012;">Vervins     15/ 4955</div>
<div class="t" style="left:393.70px;top:291px;font-size:13.6px;font-weight:normal;font-style:normal;transform:scaleX(0.79);-webkit-text-stroke:0.55px #101012;">Chateaudun   2/  114</div>
<div class="t" style="left:393.70px;top:350px;font-size:14.7px;font-weight:bold;font-style:normal;transform:scaleX(0.935);-webkit-text-stroke:0.1px #101012;">NL  15-1875429 V</div>
<div class="t" style="left:393.70px;top:364px;font-size:13.0px;font-weight:bold;font-style:italic;transform:scaleX(0.962);-webkit-text-stroke:0.25px #101012;">KATJA</div>
<div class="t" style="left:393.70px;top:379px;font-size:13.0px;font-weight:bold;font-style:normal;transform:scaleX(0.955);-webkit-text-stroke:0.3px #101012;">Peter Janßen</div>
<div class="t" style="left:393.70px;top:394px;font-size:13.6px;font-weight:normal;font-style:normal;transform:scaleX(0.79);-webkit-text-stroke:0.55px #101012;">blue/a-gen</div>
<div class="t" style="left:393.70px;top:409px;font-size:13.6px;font-weight:normal;font-style:normal;transform:scaleX(0.79);-webkit-text-stroke:0.55px #101012;">= (g)mother to a/o:</div>
<div class="t" style="left:393.70px;top:424px;font-size:13.6px;font-weight:normal;font-style:normal;transform:scaleX(0.79);-webkit-text-stroke:0.55px #101012;">Duffel     1/ 13249</div>
<div class="t" style="left:393.70px;top:438px;font-size:13.6px;font-weight:normal;font-style:normal;transform:scaleX(0.79);-webkit-text-stroke:0.55px #101012;">Dizy le G  1/ 13138</div>
<div class="t" style="left:393.70px;top:453px;font-size:13.6px;font-weight:normal;font-style:normal;transform:scaleX(0.79);-webkit-text-stroke:0.55px #101012;">Quievrain  1/  8836</div>
<div class="t" style="left:393.70px;top:468px;font-size:13.6px;font-weight:normal;font-style:normal;transform:scaleX(0.79);-webkit-text-stroke:0.55px #101012;">Quievrain  1/  8275</div>
<div class="t" style="left:393.70px;top:483px;font-size:13.6px;font-weight:normal;font-style:normal;transform:scaleX(0.79);-webkit-text-stroke:0.55px #101012;">Chimay     1/  8815</div>
<div class="t" style="left:393.70px;top:498px;font-size:13.6px;font-weight:normal;font-style:normal;transform:scaleX(0.79);-webkit-text-stroke:0.55px #101012;">Chalons    1/  5952</div>
<div class="t" style="left:393.70px;top:513px;font-size:13.6px;font-weight:normal;font-style:normal;transform:scaleX(0.79);-webkit-text-stroke:0.55px #101012;">Quievrain  1/  3102</div>
<div class="t" style="left:393.70px;top:527px;font-size:13.6px;font-weight:normal;font-style:normal;transform:scaleX(0.79);-webkit-text-stroke:0.55px #101012;">Dizy le G  1/  2983</div>
<div class="t" style="left:393.70px;top:542px;font-size:13.6px;font-weight:normal;font-style:normal;transform:scaleX(0.79);-webkit-text-stroke:0.55px #101012;">Bierges    1/  2373</div>
<div class="t" style="left:393.70px;top:600px;font-size:14.7px;font-weight:bold;font-style:normal;transform:scaleX(0.935);-webkit-text-stroke:0.1px #101012;">NL  18-1546900 M</div>
<div class="t" style="left:393.70px;top:615px;font-size:13.0px;font-weight:bold;font-style:italic;transform:scaleX(0.962);-webkit-text-stroke:0.25px #101012;">ODIN</div>
<div class="t" style="left:393.70px;top:630px;font-size:13.0px;font-weight:bold;font-style:normal;transform:scaleX(0.955);-webkit-text-stroke:0.3px #101012;">Will &amp; Falco Ebbben</div>
<div class="t" style="left:393.70px;top:645px;font-size:13.6px;font-weight:normal;font-style:normal;transform:scaleX(0.79);-webkit-text-stroke:0.55px #101012;">blue pencil</div>
<div class="t" style="left:393.70px;top:660px;font-size:13.6px;font-weight:normal;font-style:normal;transform:scaleX(0.79);-webkit-text-stroke:0.55px #101012;">= Father 19-1333822:</div>
<div class="t" style="left:393.70px;top:675px;font-size:13.6px;font-weight:normal;font-style:normal;transform:scaleX(0.79);-webkit-text-stroke:0.55px #101012;">Won a/o (4 x 1 club)</div>
<div class="t" style="left:393.70px;top:689px;font-size:13.6px;font-weight:normal;font-style:normal;transform:scaleX(0.79);-webkit-text-stroke:0.55px #101012;">Dizy le Gros  1/2983</div>
<div class="t" style="left:393.70px;top:704px;font-size:13.6px;font-weight:normal;font-style:normal;transform:scaleX(0.79);-webkit-text-stroke:0.55px #101012;">Chaloms en C  1/5952</div>
<div class="t" style="left:393.70px;top:719px;font-size:13.6px;font-weight:normal;font-style:normal;transform:scaleX(0.79);-webkit-text-stroke:0.55px #101012;">Beek en Donk 10/3263</div>
<div class="t" style="left:393.70px;top:734px;font-size:13.6px;font-weight:normal;font-style:normal;transform:scaleX(0.79);-webkit-text-stroke:0.55px #101012;">Dizy le Gr   12/1528</div>
<div class="t" style="left:393.70px;top:749px;font-size:13.6px;font-weight:normal;font-style:normal;transform:scaleX(0.79);-webkit-text-stroke:0.55px #101012;">3. Olympiadbird</div>
<div class="t" style="left:393.70px;top:764px;font-size:13.6px;font-weight:normal;font-style:normal;transform:scaleX(0.79);-webkit-text-stroke:0.55px #101012;">Grown Up 2021</div>
<div class="t" style="left:393.70px;top:778px;font-size:13.6px;font-weight:normal;font-style:normal;transform:scaleX(0.79);-webkit-text-stroke:0.55px #101012;">=brother 18-1682481</div>
<div class="t" style="left:393.70px;top:793px;font-size:13.6px;font-weight:normal;font-style:normal;transform:scaleX(0.79);-webkit-text-stroke:0.55px #101012;">1. Ace LD Fed. 2020</div>
<div class="t" style="left:393.70px;top:855px;font-size:14.7px;font-weight:bold;font-style:normal;transform:scaleX(0.935);-webkit-text-stroke:0.1px #101012;">NL  17-1056085 V</div>
<div class="t" style="left:393.70px;top:869px;font-size:13.0px;font-weight:bold;font-style:italic;transform:scaleX(0.962);-webkit-text-stroke:0.25px #101012;">MEI-LING</div>
<div class="t" style="left:393.70px;top:884px;font-size:13.0px;font-weight:bold;font-style:normal;transform:scaleX(0.955);-webkit-text-stroke:0.3px #101012;">Will &amp; Falco Ebben</div>
<div class="t" style="left:393.70px;top:899px;font-size:13.6px;font-weight:normal;font-style:normal;transform:scaleX(0.79);-webkit-text-stroke:0.55px #101012;">blue pencil</div>
<div class="t" style="left:393.70px;top:914px;font-size:13.6px;font-weight:normal;font-style:normal;transform:scaleX(0.79);-webkit-text-stroke:0.55px #101012;">Halfsister:</div>
<div class="t" style="left:393.70px;top:929px;font-size:13.6px;font-weight:normal;font-style:normal;transform:scaleX(0.79);-webkit-text-stroke:0.55px #101012;">1. Ace PIPA 2022</div>
<div class="t" style="left:393.70px;top:944px;font-size:13.6px;font-weight:normal;font-style:normal;transform:scaleX(0.79);-webkit-text-stroke:0.55px #101012;">Mother 19-822:</div>
<div class="t" style="left:393.70px;top:958px;font-size:13.6px;font-weight:normal;font-style:normal;transform:scaleX(0.79);-webkit-text-stroke:0.55px #101012;">3. Olympiadpigeon</div>
<div class="t" style="left:393.70px;top:973px;font-size:13.6px;font-weight:normal;font-style:normal;transform:scaleX(0.79);-webkit-text-stroke:0.55px #101012;">Grown Up 2022</div>
<div class="t" style="left:393.70px;top:988px;font-size:13.6px;font-weight:normal;font-style:normal;transform:scaleX(0.79);-webkit-text-stroke:0.55px #101012;">Chalons/C    1/ 5952</div>
<div class="t" style="left:393.70px;top:1003px;font-size:13.6px;font-weight:normal;font-style:normal;transform:scaleX(0.79);-webkit-text-stroke:0.55px #101012;">Dizy le G    1/ 2983</div>
<div class="t" style="left:393.70px;top:1018px;font-size:13.6px;font-weight:normal;font-style:normal;transform:scaleX(0.79);-webkit-text-stroke:0.55px #101012;">Beek &amp; Donk 10/ 3263</div>
<div class="t" style="left:393.70px;top:1033px;font-size:13.6px;font-weight:normal;font-style:normal;transform:scaleX(0.79);-webkit-text-stroke:0.55px #101012;">Dizy le G   12/ 1528</div>
<div class="t" style="left:393.70px;top:1047px;font-size:13.6px;font-weight:normal;font-style:normal;transform:scaleX(0.79);-webkit-text-stroke:0.55px #101012;">Quievrain   54/17037</div>
<div class="t" style="left:602.60px;top:99px;font-size:14.7px;font-weight:bold;font-style:normal;transform:scaleX(0.935);-webkit-text-stroke:0.1px #101012;">NL  08-1241483 M</div>
<div class="t" style="left:602.60px;top:114px;font-size:13.0px;font-weight:bold;font-style:italic;transform:scaleX(0.962);-webkit-text-stroke:0.25px #101012;">DIABLO</div>
<div class="t" style="left:602.60px;top:129px;font-size:13.0px;font-weight:bold;font-style:normal;transform:scaleX(0.955);-webkit-text-stroke:0.3px #101012;">Will &amp; Falco Ebben</div>
<div class="t" style="left:602.60px;top:144px;font-size:13.6px;font-weight:normal;font-style:normal;transform:scaleX(0.79);-webkit-text-stroke:0.55px #101012;">blue/aa-gen</div>
<div class="t" style="left:602.60px;top:158px;font-size:13.6px;font-weight:normal;font-style:normal;transform:scaleX(0.79);-webkit-text-stroke:0.55px #101012;">1. NPO Morlincourt</div>
<div class="t" style="left:602.60px;top:173px;font-size:13.6px;font-weight:normal;font-style:normal;transform:scaleX(0.79);-webkit-text-stroke:0.55px #101012;">against 16,971 p.</div>
<div class="t" style="left:602.60px;top:227px;font-size:14.7px;font-weight:bold;font-style:normal;transform:scaleX(0.935);-webkit-text-stroke:0.1px #101012;">NL  13-1921958 V</div>
<div class="t" style="left:602.60px;top:242px;font-size:13.0px;font-weight:bold;font-style:italic;transform:scaleX(0.962);-webkit-text-stroke:0.25px #101012;">INDY - 6 x 1st</div>
<div class="t" style="left:602.60px;top:257px;font-size:13.0px;font-weight:bold;font-style:normal;transform:scaleX(0.955);-webkit-text-stroke:0.3px #101012;">Ad Schaerlaeckens</div>
<div class="t" style="left:602.60px;top:272px;font-size:13.6px;font-weight:normal;font-style:normal;transform:scaleX(0.79);-webkit-text-stroke:0.55px #101012;">dark chequer/a-gen</div>
<div class="t" style="left:602.60px;top:286px;font-size:13.6px;font-weight:normal;font-style:normal;transform:scaleX(0.79);-webkit-text-stroke:0.55px #101012;">1. Ace LD Fed. 2014</div>
<div class="t" style="left:602.60px;top:301px;font-size:13.6px;font-weight:normal;font-style:normal;transform:scaleX(0.79);-webkit-text-stroke:0.55px #101012;">Soissons     1/ 2538</div>
<div class="t" style="left:602.60px;top:350px;font-size:14.7px;font-weight:bold;font-style:normal;transform:scaleX(0.935);-webkit-text-stroke:0.1px #101012;">BE  09-6358797 M</div>
<div class="t" style="left:602.60px;top:365px;font-size:13.0px;font-weight:bold;font-style:italic;transform:scaleX(0.962);-webkit-text-stroke:0.25px #101012;">SON KAASBOER</div>
<div class="t" style="left:602.60px;top:380px;font-size:13.0px;font-weight:bold;font-style:normal;transform:scaleX(0.955);-webkit-text-stroke:0.3px #101012;">Gaston van de Wouwer</div>
<div class="t" style="left:602.60px;top:395px;font-size:13.6px;font-weight:normal;font-style:normal;transform:scaleX(0.79);-webkit-text-stroke:0.55px #101012;">Father MULLER:</div>
<div class="t" style="left:602.60px;top:410px;font-size:13.6px;font-weight:normal;font-style:normal;transform:scaleX(0.79);-webkit-text-stroke:0.55px #101012;">1. Nat Ace FS &#x27;13-15</div>
<div class="t" style="left:602.60px;top:424px;font-size:13.6px;font-weight:normal;font-style:normal;transform:scaleX(0.79);-webkit-text-stroke:0.55px #101012;">Sens NPO    1/  6432</div>
<div class="t" style="left:602.60px;top:474px;font-size:14.7px;font-weight:bold;font-style:normal;transform:scaleX(0.935);-webkit-text-stroke:0.1px #101012;">DV  09711-07-331 V</div>
<div class="t" style="left:602.60px;top:488px;font-size:13.0px;font-weight:bold;font-style:italic;transform:scaleX(0.962);-webkit-text-stroke:0.25px #101012;">GRD KANNIBAAL</div>
<div class="t" style="left:602.60px;top:503px;font-size:13.0px;font-weight:bold;font-style:normal;transform:scaleX(0.955);-webkit-text-stroke:0.3px #101012;">Meier-Rahden</div>
<div class="t" style="left:602.60px;top:518px;font-size:13.6px;font-weight:normal;font-style:normal;transform:scaleX(0.79);-webkit-text-stroke:0.55px #101012;">Mother MULLER:</div>
<div class="t" style="left:602.60px;top:533px;font-size:13.6px;font-weight:normal;font-style:normal;transform:scaleX(0.79);-webkit-text-stroke:0.55px #101012;">1. Nat Ace FS &#x27;13-15</div>
<div class="t" style="left:602.60px;top:548px;font-size:13.6px;font-weight:normal;font-style:normal;transform:scaleX(0.79);-webkit-text-stroke:0.55px #101012;">Sens NPO    1/  6432</div>
<div class="t" style="left:602.60px;top:601px;font-size:14.7px;font-weight:bold;font-style:normal;transform:scaleX(0.935);-webkit-text-stroke:0.1px #101012;">NL  15-1475928 M</div>
<div class="t" style="left:602.60px;top:616px;font-size:13.0px;font-weight:bold;font-style:italic;transform:scaleX(0.962);-webkit-text-stroke:0.25px #101012;">KURT</div>
<div class="t" style="left:602.60px;top:631px;font-size:13.0px;font-weight:bold;font-style:normal;transform:scaleX(0.955);-webkit-text-stroke:0.3px #101012;">Will &amp; Falco Ebben</div>
<div class="t" style="left:602.60px;top:646px;font-size:13.6px;font-weight:normal;font-style:normal;transform:scaleX(0.79);-webkit-text-stroke:0.55px #101012;">blue/a-gen</div>
<div class="t" style="left:602.60px;top:661px;font-size:13.6px;font-weight:normal;font-style:normal;transform:scaleX(0.79);-webkit-text-stroke:0.55px #101012;">Father 18-1682481:</div>
<div class="t" style="left:602.60px;top:675px;font-size:13.6px;font-weight:normal;font-style:normal;transform:scaleX(0.79);-webkit-text-stroke:0.55px #101012;">Peronne      1/ 1556</div>
<div class="t" style="left:602.60px;top:727px;font-size:14.7px;font-weight:bold;font-style:normal;transform:scaleX(0.935);-webkit-text-stroke:0.1px #101012;">NL  16-1312226 V</div>
<div class="t" style="left:602.60px;top:742px;font-size:13.0px;font-weight:bold;font-style:italic;transform:scaleX(0.962);-webkit-text-stroke:0.25px #101012;">LAONNEKE</div>
<div class="t" style="left:602.60px;top:757px;font-size:13.0px;font-weight:bold;font-style:normal;transform:scaleX(0.955);-webkit-text-stroke:0.3px #101012;">Ad Schaerlaeckens</div>
<div class="t" style="left:602.60px;top:772px;font-size:13.6px;font-weight:normal;font-style:normal;transform:scaleX(0.79);-webkit-text-stroke:0.55px #101012;">dark chequer</div>
<div class="t" style="left:602.60px;top:787px;font-size:13.6px;font-weight:normal;font-style:normal;transform:scaleX(0.79);-webkit-text-stroke:0.55px #101012;">Only raced as a</div>
<div class="t" style="left:602.60px;top:801px;font-size:13.6px;font-weight:normal;font-style:normal;transform:scaleX(0.79);-webkit-text-stroke:0.55px #101012;">youngster. Won among</div>
<div class="t" style="left:602.60px;top:855px;font-size:14.7px;font-weight:bold;font-style:normal;transform:scaleX(0.935);-webkit-text-stroke:0.1px #101012;">NL  12-1355632</div>
<div class="t" style="left:602.60px;top:870px;font-size:13.0px;font-weight:bold;font-style:italic;transform:scaleX(0.962);-webkit-text-stroke:0.25px #101012;">HANNIBAL</div>
<div class="t" style="left:602.60px;top:885px;font-size:13.0px;font-weight:bold;font-style:normal;transform:scaleX(0.955);-webkit-text-stroke:0.3px #101012;">W. &amp; F. Ebben</div>
<div class="t" style="left:602.60px;top:900px;font-size:13.6px;font-weight:normal;font-style:normal;transform:scaleX(0.79);-webkit-text-stroke:0.55px #101012;">Won 2 x top 10 NPO</div>
<div class="t" style="left:602.60px;top:915px;font-size:13.6px;font-weight:normal;font-style:normal;transform:scaleX(0.79);-webkit-text-stroke:0.55px #101012;">= (g)father to a/o:</div>
<div class="t" style="left:602.60px;top:929px;font-size:13.6px;font-weight:normal;font-style:normal;transform:scaleX(0.79);-webkit-text-stroke:0.55px #101012;">3. Olympiadpigeon NL</div>
<div class="t" style="left:602.60px;top:982px;font-size:14.7px;font-weight:bold;font-style:normal;transform:scaleX(0.935);-webkit-text-stroke:0.1px #101012;">NL  15-1875429 V</div>
<div class="t" style="left:602.60px;top:997px;font-size:13.0px;font-weight:bold;font-style:italic;transform:scaleX(0.962);-webkit-text-stroke:0.25px #101012;">KATJA</div>
<div class="t" style="left:602.60px;top:1012px;font-size:13.0px;font-weight:bold;font-style:normal;transform:scaleX(0.955);-webkit-text-stroke:0.3px #101012;">Peter Janßen</div>
<div class="t" style="left:602.60px;top:1027px;font-size:13.6px;font-weight:normal;font-style:normal;transform:scaleX(0.79);-webkit-text-stroke:0.55px #101012;">blue/a-gen</div>
<div class="t" style="left:602.60px;top:1042px;font-size:13.6px;font-weight:normal;font-style:normal;transform:scaleX(0.79);-webkit-text-stroke:0.55px #101012;">= (g)mother to a/o:</div>
<div class="t" style="left:602.60px;top:1056px;font-size:13.6px;font-weight:normal;font-style:normal;transform:scaleX(0.79);-webkit-text-stroke:0.55px #101012;">Duffel     1/ 13249</div>
<div class="t" style="left:18.00px;top:980px;font-size:19.7px;font-weight:normal;font-style:normal;transform:scaleX(0.855);-webkit-text-stroke:0.45px #101012;">Frans Strikker</div>
<div class="t" style="left:17.60px;top:998px;font-size:12.4px;font-weight:normal;font-style:normal;transform:scaleX(0.864);-webkit-text-stroke:0.3px #101012;">Meidoornstraat 8</div>
<div class="t" style="left:17.60px;top:1014px;font-size:12.4px;font-weight:normal;font-style:normal;transform:scaleX(0.864);-webkit-text-stroke:0.3px #101012;">7552BA  Hengelo</div>
<div class="t" style="left:17.60px;top:1030px;font-size:12.4px;font-weight:normal;font-style:normal;transform:scaleX(0.864);-webkit-text-stroke:0.3px #101012;">Tel.:06-15107186</div>
<div class="t" style="left:611.30px;top:1087px;font-size:7.45px;font-weight:bold;font-style:italic;transform:scaleX(1.03);color:#333;">Compoclub © [9.46]  Frans Strikker</div>
</div>
</body></html>
